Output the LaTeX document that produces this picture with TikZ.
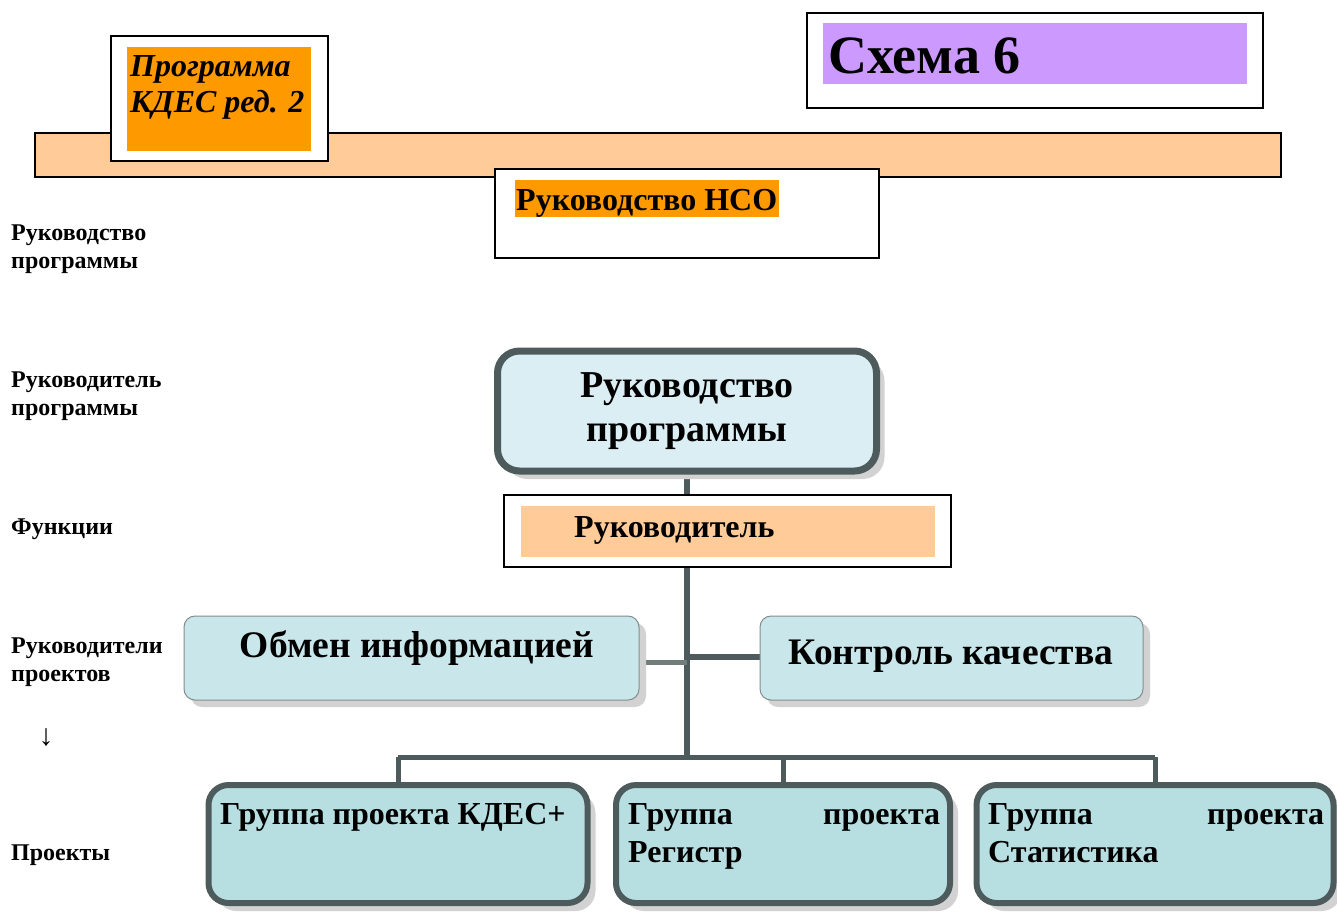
\documentclass[tikz,border=0pt]{standalone}
\usepackage{fontspec}
\setmainfont{Liberation Serif}
\usetikzlibrary{shadows}
\definecolor{edgec}{HTML}{4E5B5C}
\definecolor{peach}{HTML}{FFCC99}
\definecolor{orng}{HTML}{FF9900}
\definecolor{lilac}{HTML}{CC99FF}
\definecolor{blueA}{HTML}{DAEEF3}
\definecolor{blueB}{HTML}{C9E7EA}
\definecolor{blueC}{HTML}{B7DEE1}
\pgfdeclarelayer{bg}
\pgfsetlayers{bg,main}
\tikzset{
  corner/.style={anchor=north west, inner sep=0pt, outer sep=0pt},
  frame/.style={corner, draw=black, fill=white, line width=2pt},
  lbl/.style={anchor=base west, inner sep=0pt, align=left, font=\fontsize{24}{28}\selectfont\bfseries},
  txt/.style={inner sep=0pt, font=\bfseries},
  conn/.style={draw=edgec, line width=6pt},
  thickbox/.style={draw=edgec, line width=7pt, rounded corners=22pt, inner sep=0pt,
    drop shadow={shadow xshift=8pt, shadow yshift=-8pt, fill=gray!35, opacity=1}},
  thinbox/.style={draw=edgec!70, line width=1pt, rounded corners=11pt, fill=blueB, inner sep=0pt,
    drop shadow={shadow xshift=7pt, shadow yshift=-7pt, fill=gray!35, opacity=1}},
  projbox/.style={thickbox, line width=6pt, rounded corners=20pt, fill=blueC, minimum height=118pt,
    drop shadow={shadow xshift=6pt, shadow yshift=-6pt, fill=gray!35, opacity=1}},
  projtext/.style={txt, anchor=base west, align=left, font=\fontsize{32}{38}\selectfont\bfseries},
}
\begin{document}
\begin{tikzpicture}[x=1pt,y=-1pt]
\useasboundingbox (0,0) rectangle (1337,911);

% left column labels (base = last line)
\node[lbl] (l1) at (11,268) {Руководство\\программы};
\node[lbl] (l2) at (11,415) {Руководитель\\программы};
\node[lbl] (l3) at (11,534) {Функции};
\node[lbl] (l4) at (11,681) {Руководители\\проектов};
\node[anchor=base, inner sep=0pt, font=\fontsize{30}{30}\selectfont] (arr) at (46,745) {↓};
\node[lbl] (l5) at (11,860) {Проекты};

% top band
\node[corner, draw=black, line width=2pt, fill=peach, minimum width=1246pt, minimum height=44pt] (bar) at (35,133) {};

% program box
\node[frame, minimum width=217pt, minimum height=125pt] (progbox) at (111,36) {};
\node[corner, fill=orng, minimum width=184pt, minimum height=104pt] (prog) at (127,47) {};
\node[anchor=base west, inner sep=0pt, align=left, font=\fontsize{32}{36}\selectfont\bfseries\itshape] (progt) at (130,112) {Программа\\КДЕС ред. 2};

% scheme box
\node[frame, line width=1.5pt, minimum width=456pt, minimum height=95pt] (schbox) at (807,13) {};
\node[corner, fill=lilac, minimum width=424pt, minimum height=61pt] (sch) at (823,23) {};
\node[txt, anchor=base west, font=\fontsize{54}{54}\selectfont\bfseries] (scht) at (828,73) {Схема 6};

% HSO box
\node[frame, minimum width=384pt, minimum height=89pt] (hsobox) at (495,169) {};
\node[corner, fill=orng, minimum width=264pt, minimum height=37pt] (hso) at (515,180) {};
\node[txt, anchor=base west, font=\fontsize{32}{32}\selectfont\bfseries] (hsot) at (516,210) {Руководство НСО};

% management box
\node[thickbox, fill=blueA, minimum width=379pt, minimum height=120pt, align=center,
      font=\fontsize{38}{44}\selectfont\bfseries] (rp) at (687,411) {Руководство\\программы};

% leader box
\node[frame, line width=1.5pt, minimum width=447pt, minimum height=72pt] (rbox) at (504,495) {};
\node[corner, fill=peach, minimum width=414pt, minimum height=51pt] (rk) at (521,506) {};
\node[txt, anchor=base west, font=\fontsize{32}{32}\selectfont\bfseries] (rkt) at (574,537) {Руководитель};

% function boxes
\node[thinbox, corner, minimum width=455pt, minimum height=84pt] (obm) at (184,616) {};
\node[txt, anchor=base, font=\fontsize{37.5}{38}\selectfont\bfseries] (obmt) at (417,657) {Обмен информацией};
\node[thinbox, corner, minimum width=383pt, minimum height=84pt] (ktr) at (760,616) {};
\node[txt, anchor=base, font=\fontsize{37.5}{38}\selectfont\bfseries] (ktrt) at (951,664) {Контроль качества};

% project boxes
\node[projbox, minimum width=379pt] (g1) at (398,844) {};
\node[projbox, minimum width=334pt] (g2) at (783,844) {};
\node[projbox, minimum width=357pt] (g3) at (1155,844) {};
\node[projtext] (g1t) at (220,824) {Группа проекта КДЕС+};
\node[projtext, text width=312pt] (g2t) at (628,824) {Группа\hfill проекта\\Регистр};
\node[projtext, text width=336pt] (g3t) at (988,824) {Группа\hfill проекта\\Статистика};

% connectors
\coordinate (bus) at (687,757);
\coordinate (jl) at (687,662);
\coordinate (jr) at (687,657);
\begin{pgfonlayer}{bg}
\draw[conn] (rp.south) -- (rp.south |- bus);
\draw[conn, draw=edgec!80, line width=5pt] (obm.east |- jl) -- (jl);
\draw[conn] (jr) -- (ktr.west |- jr);
\draw[conn, line width=5pt] (g1.north |- bus) -- (g3.north |- bus);
\draw[conn, line width=5pt] (g1.north |- bus) -- (g1.north);
\draw[conn, line width=5pt] (g2.north |- bus) -- (g2.north);
\draw[conn, line width=5pt] (g3.north |- bus) -- (g3.north);
\end{pgfonlayer}
\end{tikzpicture}
\end{document}
